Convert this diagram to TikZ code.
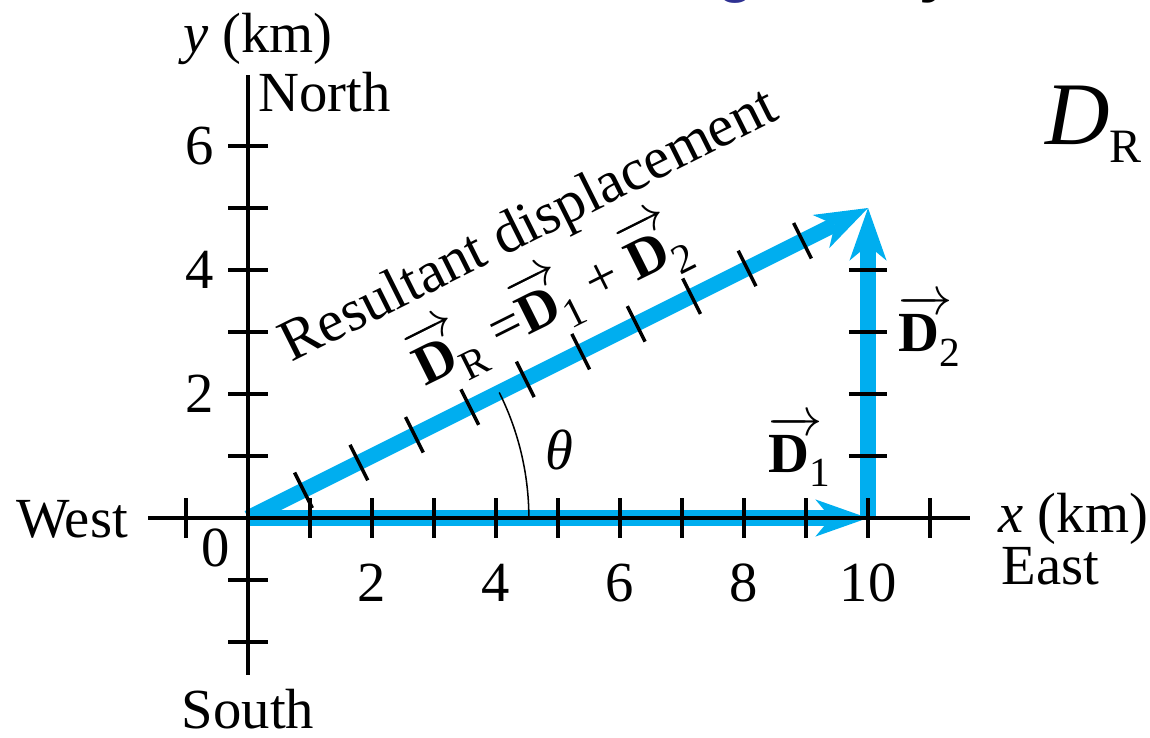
\documentclass[tikz,border=0pt]{standalone}
\usepackage{amsmath}
\usepackage{fontspec}
\setmainfont{Liberation Serif}
\newfontfamily\titlefont{Liberation Sans}
\usetikzlibrary{arrows.meta,calc,positioning}
\definecolor{vecblue}{RGB}{0,174,239}
\definecolor{titleblue}{RGB}{46,49,146}
\newcommand{\vD}[1]{\rlap{$\overrightarrow{\phantom{\textbf{D}}}$}\textbf{D}\raisebox{-0.25em}{\fontsize{19}{19}\selectfont #1}}
\tikzset{
  axisline/.style={line width=2.2pt,black},
  tickmark/.style={line width=2pt,black},
  vtick/.style={line width=1.6pt,black},
  vec/.style={line width=7pt,color=vecblue,
    -{Stealth[length=0.85cm,width=0.6cm,inset=0.25cm,line width=0pt]}},
  lbl/.style={font=\fontsize{26}{30}\selectfont,inner sep=0pt},
  ttl/.style={font=\titlefont\bfseries\fontsize{28}{28}\selectfont,inner sep=0pt}
}
\begin{document}
\begin{tikzpicture}[every node/.style={lbl}]
  \useasboundingbox (-4.0,-3.532) rectangle (14.548,8.355);
  \coordinate (O) at (0,0);
  \coordinate (E) at (10,0);
  \coordinate (N) at (10,5);
  \coordinate (xw) at (-1.61,0);
  \coordinate (xe) at (11.65,0);
  \coordinate (ys) at (0,-2.53);
  \coordinate (yn) at (0,7.15);

  % vectors
  \draw[vec] (O) -- (E);
  \draw[vec] (E) -- (N);
  \draw[vec] (O) -- (N);

  % axes and ticks
  \draw[axisline] (xw) -- (xe);
  \draw[axisline] (ys) -- (yn);
  \foreach \x in {-1,1,2,3,4,5,6,7,8,9,10,11}
    \draw[tickmark] (\x,-0.32) -- (\x,0.32);
  \foreach \y in {-2,-1,1,2,3,4,5,6}
    \draw[tickmark] (-0.32,\y) -- (0.32,\y);
  \foreach \y in {1,2,3,4}
    \draw[tickmark] (9.69,\y) -- (10.31,\y);
  \begin{scope}[rotate=26.565]
    \foreach \k in {1,...,10}
      \draw[vtick] (\k,-0.32) -- (\k,0.32);
  \end{scope}
  \draw[line width=0.7pt] (4.53,0) arc (0:26.565:4.53);

  \foreach \y in {2,4,6}
    \node[anchor=east] (ylab\y) at (-0.55,\y) {\y};
  \foreach \x in {2,4,6,8,10}
    \node[anchor=base] (xlab\x) at (\x,-1.34) {\x};
  \node[anchor=base] (zero) at (-0.52,-0.79) {0};

  \node[anchor=base west] (ykm) at (-1.05,7.5) {\textit{y} (km)};
  \node[anchor=base west] (north) at (0.16,6.55) {North};
  \node[anchor=base east] (west) at (-1.93,-0.32) {West};
  \node[anchor=base west] (xkm) at (12.1,-0.24) {\textit{x} (km)};
  \node[anchor=base west] (east) at (12.15,-1.08) {East};
  \node[anchor=base] (south) at (0,-3.40) {South};

  \node (theta) at (5.03,1.1) {\textit{θ}};
  \node[anchor=base west] (d1) at (8.39,0.73) {\vD{1}};
  \node[anchor=base west] (d2) at (10.48,2.68) {\vD{2}};
  \node[rotate=26.565,font=\fontsize{27}{30}\selectfont] (res) at (4.55,4.68) {Resultant displacement};
  \node[rotate=26.565] (eq) at (4.86,3.50) {\vD{R} =\vD{1} + \vD{2}};

  \node[anchor=base west,font=\fontsize{41}{41}\selectfont] (dr) at (12.85,6.02)
    {\textit{D}\raisebox{-8pt}{\fontsize{22}{22}\selectfont R}};

  \node[ttl,text=titleblue,anchor=base] (tg) at (7.87,8.5) {g};
  \node[ttl,anchor=base] (ty) at (11.11,8.5) {y};
\end{tikzpicture}
\end{document}
